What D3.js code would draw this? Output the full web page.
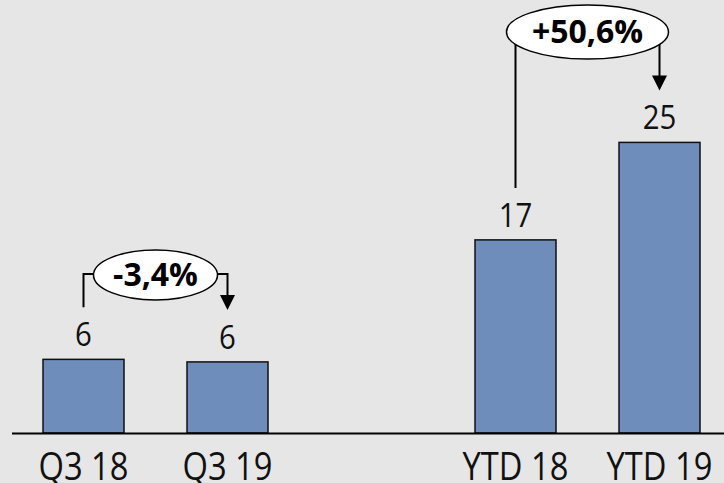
<!DOCTYPE html>
<html>
<head>
<meta charset="utf-8">
<script src="https://cdn.jsdelivr.net/npm/d3@7"></script>
<style>
  body { margin: 0; background: #e6e6e6; }
  svg { display: block; font-family: "Open Sans", sans-serif; }
</style>
</head>
<body>
<div id="chart"></div>
<script>
// categories, with an empty slot between the two pairs
var categories = ["Q3 18", "Q3 19", "", "YTD 18", "YTD 19"];
var values = [6.36, 6.14, null, 16.68, 25.1];
var valueLabels = ["6", "6", "", "17", "25"];

// change annotations: from -> to category
var changeFrom = ["Q3 18", "YTD 18"];
var changeTo = ["Q3 19", "YTD 19"];
var changeLabels = ["-3,4%", "+50,6%"];

var width = 724, height = 483;

var svg = d3.select("#chart").append("svg")
    .attr("width", width)
    .attr("height", height);

svg.append("rect").attr("width", width).attr("height", height).attr("fill", "#e6e6e6");

var x = d3.scaleBand()
    .domain(categories)
    .range([11.5, 731.5])
    .paddingInner(0.4375)
    .paddingOuter(0.21875);

var y = d3.scaleLinear()
    .domain([0, 37.4])
    .range([433, 0]);

// squeeze a text horizontally, the original font is narrower
function narrow(sel, k) {
    sel.each(function () {
        var w = this.getComputedTextLength();
        if (w > 0) d3.select(this).attr("textLength", w * k).attr("lengthAdjust", "spacingAndGlyphs");
    });
}

var data = categories.map(function (c, i) {
    return {cat: c, value: values[i], label: valueLabels[i]};
}).filter(function (d) { return d.value != null; });

svg.selectAll("rect.bar")
    .data(data)
    .enter().append("rect")
    .attr("class", "bar")
    .attr("x", function (d) { return x(d.cat); })
    .attr("y", function (d) { return y(d.value); })
    .attr("width", x.bandwidth())
    .attr("height", function (d) { return y(0) - y(d.value); })
    .attr("fill", "#6e8dbb")
    .attr("stroke", "#111")
    .attr("stroke-width", 1.5);

svg.selectAll("text.val")
    .data(data)
    .enter().append("text")
    .attr("class", "val")
    .attr("x", function (d) { return x(d.cat) + x.bandwidth() / 2; })
    .attr("y", function (d) { return y(d.value) - 13; })
    .attr("text-anchor", "middle")
    .attr("font-size", 33)
    .attr("fill", "#111")
    .text(function (d) { return d.label; })
    .call(narrow, 0.89);

// x axis
var axis = svg.append("g")
    .attr("transform", "translate(0," + y(0) + ")")
    .call(d3.axisBottom(x).tickSize(0).tickFormat(function (d) { return d; }));
axis.select(".domain").attr("stroke", "#000").attr("stroke-width", 2);
axis.selectAll("text")
    .attr("y", 47)
    .attr("dy", 0)
    .attr("font-size", 38)
    .attr("font-family", "Open Sans, sans-serif")
    .attr("fill", "#111")
    .call(narrow, 0.86);

// change annotations
var bracketY = [274, 31];
var ellipseR = [[62, 25], [81, 27]];
var valueOf = function (c) { return values[categories.indexOf(c)]; };

changeLabels.forEach(function (lbl, i) {
    var x0 = x(changeFrom[i]) + x.bandwidth() / 2;
    var x1 = x(changeTo[i]) + x.bandwidth() / 2;
    var y0 = y(valueOf(changeFrom[i])) - 52;
    var y1 = y(valueOf(changeTo[i])) - 52;
    var by = bracketY[i];
    var g = svg.append("g");

    g.append("path")
        .attr("d", "M" + x0 + "," + y0 + "V" + by + "H" + x1 + "V" + (y1 - 14))
        .attr("fill", "none")
        .attr("stroke", "#000")
        .attr("stroke-width", 2);

    g.append("path")
        .attr("d", "M" + (x1 - 7.5) + "," + (y1 - 15) + "L" + (x1 + 7.5) + "," + (y1 - 15) + "L" + x1 + "," + y1 + "Z")
        .attr("fill", "#000");

    var cx = (x0 + x1) / 2;
    g.append("ellipse")
        .attr("cx", cx)
        .attr("cy", by + 1)
        .attr("rx", ellipseR[i][0])
        .attr("ry", ellipseR[i][1])
        .attr("fill", "#fff")
        .attr("stroke", "#000")
        .attr("stroke-width", 1.5);

    g.append("text")
        .attr("x", cx)
        .attr("y", by + 12)
        .attr("text-anchor", "middle")
        .attr("font-size", 32)
        .attr("font-weight", "bold")
        .attr("fill", "#000")
        .text(lbl);
});
</script>
</body>
</html>
